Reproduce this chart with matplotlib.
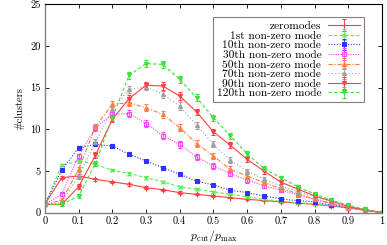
import matplotlib
matplotlib.use("Agg")
import matplotlib.pyplot as plt
import numpy as np

plt.rcParams['font.family'] = ['cmr10', 'DejaVu Serif']
plt.rcParams['mathtext.fontset'] = 'cm'
plt.rcParams['axes.formatter.use_mathtext'] = True

x = [0, 0.05, 0.1, 0.15, 0.2, 0.25, 0.3, 0.35, 0.4, 0.45, 0.5,
     0.55, 0.6, 0.65, 0.7, 0.75, 0.8, 0.85, 0.9, 0.95, 1.0]

zeromodes = [1, 4.2, 4.4, 4.0, 3.7, 3.4, 3.0, 2.75, 2.4, 2.2, 2.0,
             1.8, 1.6, 1.45, 1.3, 1.15, 1.0, 0.8, 0.6, 0.35, 0]
mode1 = [1, 5.7, 6.2, 5.8, 5.1, 4.7, 4.2, 3.7, 3.1, 2.8, 2.5,
         2.2, 1.9, 1.6, 1.35, 1.2, 1.05, 0.85, 0.6, 0.3, 0]
mode10 = [1, 5.1, 7.8, 8.2, 8.0, 7.0, 6.2, 5.4, 4.6, 3.8, 3.3,
          2.7, 2.4, 2.0, 1.65, 1.45, 1.3, 0.9, 0.55, 0.3, 0]
mode30 = [1, 2.2, 6.8, 10.2, 11.8, 11.9, 10.7, 9.25, 8.2, 6.7, 5.6,
          4.7, 3.9, 3.25, 2.7, 2.15, 1.6, 1.1, 0.6, 0.3, 0]
mode50 = [1, 1.5, 5.2, 10.3, 13.0, 13.2, 12.6, 11.8, 10.2, 8.3, 6.8,
          5.2, 4.4, 3.6, 2.9, 2.3, 1.6, 1.1, 0.6, 0.3, 0]
mode70 = [1, 1.3, 4.4, 8.5, 12.4, 14.8, 15.1, 14.2, 12.8, 10.5, 8.2,
          6.3, 5.0, 4.0, 3.2, 2.5, 1.9, 1.2, 0.7, 0.3, 0]
mode90 = [1, 1.0, 3.1, 6.9, 11.2, 13.7, 15.3, 15.2, 14.0, 12.1, 9.7,
          8.1, 6.4, 5.0, 3.65, 2.85, 2.0, 1.4, 0.75, 0.3, 0]
mode120 = [1, 1.0, 2.0, 5.9, 11.4, 16.5, 17.9, 17.8, 16.0, 13.8, 11.4,
           9.25, 7.05, 5.3, 4.2, 3.1, 2.25, 1.5, 0.9, 0.4, 0]

err_low = [0.05, 0.15, 0.2, 0.2, 0.15, 0.15, 0.15, 0.15, 0.15, 0.12, 0.12,
           0.1, 0.1, 0.1, 0.1, 0.1, 0.08, 0.08, 0.06, 0.05, 0.03]
err_high = [0.05, 0.2, 0.3, 0.35, 0.35, 0.4, 0.4, 0.45, 0.45, 0.4, 0.35,
            0.35, 0.3, 0.3, 0.25, 0.2, 0.15, 0.12, 0.1, 0.06, 0.03]

labels = ["zeromodes", "1st non-zero mode", "10th non-zero mode",
          "30th non-zero mode", "50th non-zero mode", "70th non-zero mode",
          "90th non-zero mode", "120th non-zero mode"]
series = [zeromodes, mode1, mode10, mode30, mode50, mode70, mode90, mode120]
errs = [err_low, err_low, err_low, err_high, err_high, err_high, err_high, err_high]
colors = ["#ff4040", "#50f050", "#3030ff", "#ff40ff", "#ff8040",
          "#a0a0a0", "#ff4040", "#40e040"]
markers = ["+", "x", "s", "s", "^", "^", "v", "v"]
mfill = [True, True, True, False, True, True, True, True]
styles = ["-", (0, (3, 2)), (0, (1, 1.5)), (0, (1, 1.2)), (0, (4, 1.5, 1, 1.5)),
          (0, (1, 2)), "-", (0, (3, 2))]
msizes = [4, 3.5, 2.5, 3.5, 3, 3, 3, 3]

fig = plt.figure(figsize=(3.87, 2.45), dpi=100)
ax = fig.add_axes([0.116, 0.132, 0.871, 0.850])

for y, e, c, m, f, ls, ms, lab in zip(series, errs, colors, markers, mfill,
                                      styles, msizes, labels):
    ax.errorbar(x, y, yerr=e, color=c, marker=m, markersize=ms,
                markerfacecolor=(c if f else 'none'), markeredgecolor=c,
                markeredgewidth=0.8, linestyle=ls, linewidth=0.8,
                elinewidth=0.6, capsize=1.5, capthick=0.6, label=lab)

ax.set_xlim(0, 1)
ax.set_ylim(0, 25)
ax.set_xticks([0, 0.1, 0.2, 0.3, 0.4, 0.5, 0.6, 0.7, 0.8, 0.9, 1.0])
ax.set_xticklabels(["0", "0.1", "0.2", "0.3", "0.4", "0.5", "0.6", "0.7",
                    "0.8", "0.9", "1"])
ax.set_yticks([0, 5, 10, 15, 20, 25])
ax.set_yticklabels(["0", "5", "10", "15", "20", "25"])
ax.tick_params(direction='in', top=True, right=True, length=3, width=0.6,
               labelsize=7.5, pad=3)
for s in ['top', 'right']:
    ax.spines[s].set_linewidth(0.8)
    ax.spines[s].set_color('black')
for s in ['left', 'bottom']:
    ax.spines[s].set_linewidth(1.0)
    ax.spines[s].set_color('#808080')

ax.set_xlabel(r"$p_{\rm cut}/p_{\rm max}$", fontsize=8.5, labelpad=1)
ax.set_ylabel("#clusters", fontsize=7.5, labelpad=4)

leg = ax.legend(loc='upper right', bbox_to_anchor=(0.9466, 0.939),
                markerfirst=False, fontsize=8.2,
                frameon=True, fancybox=False, edgecolor='#808080',
                borderaxespad=0, handlelength=2.8, labelspacing=-0.03,
                handletextpad=0.6, borderpad=0.35, framealpha=1)
leg.get_frame().set_linewidth(0.8)

fig.savefig("out.png", dpi=100)
